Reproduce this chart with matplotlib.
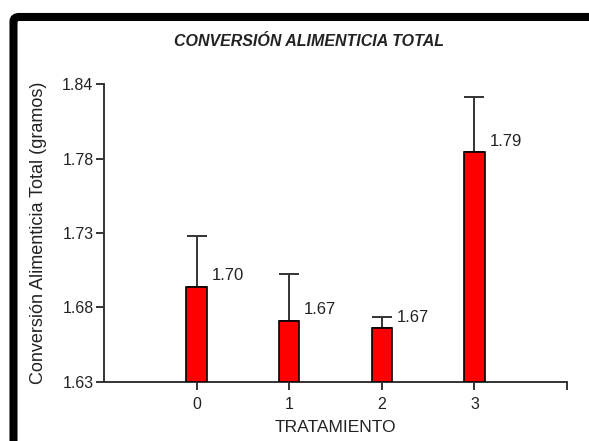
import numpy as np
import matplotlib
matplotlib.use("Agg")
import matplotlib.pyplot as plt
from matplotlib.patches import FancyBboxPatch

plt.rcParams['font.family'] = ['Liberation Sans', 'DejaVu Sans']

# data
tratamientos = ['0', '1', '2', '3']
medias = [1.697, 1.673, 1.668, 1.792]
errores = [0.036, 0.033, 0.008, 0.039]
etiquetas = ['1.70', '1.67', '1.67', '1.79']
yTicks = [1.63, 1.6825, 1.735, 1.7875, 1.84]
yTickLabels = ['1.63', '1.68', '1.73', '1.78', '1.84']

fig = plt.figure(figsize=(5.89, 4.41), dpi=100)
ax = fig.add_axes([0.1766, 0.1338, 0.7861, 0.6757])

# thick black frame (top and left visible)
frame = FancyBboxPatch((0.0229, -0.2), 1.3, 0.9615 + 0.2,
                       boxstyle="round,pad=0,rounding_size=0.01",
                       transform=fig.transFigure, fill=False,
                       edgecolor='black', linewidth=5.8)
fig.patches.append(frame)

x = np.arange(len(tratamientos))
ax.bar(x, np.array(medias) - 1.63, bottom=1.63, width=0.22,
       color='#ff0000', edgecolor='black', linewidth=1.2, zorder=3)
ax.errorbar(x, medias, yerr=[np.zeros(len(errores)), errores], fmt='none',
            ecolor='#333333', elinewidth=1.4, capsize=7.2, capthick=1.4, zorder=2)

for i in range(len(x)):
    ax.annotate(etiquetas[i], (x[i], medias[i]), xytext=(15, 11),
                textcoords='offset pixels', ha='left', va='center',
                fontsize=12, color='#222222')

ax.set_xlim(-1, 4)
ax.set_ylim(1.63, 1.84)
ax.set_xticks([0, 1, 2, 3, 4])
ax.set_xticklabels(tratamientos + [''])
ax.set_yticks(yTicks)
ax.set_yticklabels(yTickLabels)

for s in ['top', 'right']:
    ax.spines[s].set_visible(False)
for s in ['left', 'bottom']:
    ax.spines[s].set_color('#333333')
    ax.spines[s].set_linewidth(1.4)
ax.tick_params(axis='both', colors='#333333', labelcolor='#222222',
               labelsize=11.5, width=1.4, length=5.5)
ax.tick_params(axis='x', pad=5)
ax.tick_params(axis='y', pad=2)

ax.set_xlabel('TRATAMIENTO', fontsize=12.5, color='#222222', labelpad=6)
ax.set_ylabel('Conversión Alimenticia Total (gramos)', fontsize=13,
              color='#222222', labelpad=11)
fig.text(0.5246, 1 - 41 / 441, 'CONVERSIÓN ALIMENTICIA TOTAL', fontsize=11.5,
         fontweight='bold', fontstyle='italic', color='#222222',
         ha='center', va='center')

fig.savefig('out.png', dpi=100)
